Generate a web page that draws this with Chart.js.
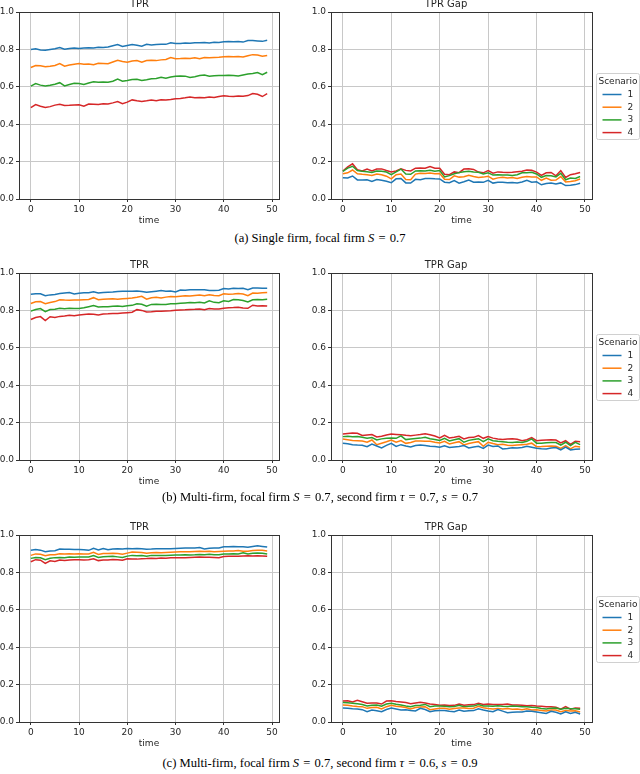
<!DOCTYPE html>
<html>
<head>
<meta charset="utf-8">
<script src="https://cdn.jsdelivr.net/npm/chart.js@4.4.0/dist/chart.umd.min.js"></script>
<style>
  html, body { margin: 0; padding: 0; background: #fff; }
  body { width: 640px; height: 774px; position: relative; overflow: hidden; }
  canvas { position: absolute; }
  .caption {
    position: absolute; left: 0; width: 640px; text-align: center;
    font-family: "Liberation Serif", "Times New Roman", serif;
    font-size: 12.6px; line-height: 16px; color: #000;
  }
  .caption .eq { padding: 0 1px; }
</style>
</head>
<body>
<canvas id="aTpr" width="290" height="231" style="left:0;top:-2px"></canvas>
<canvas id="aGap" width="340" height="231" style="left:300px;top:-2px"></canvas>
<div class="caption" style="top:230px">(a) Single firm, focal firm <i>S</i> <span class="eq">=</span> 0.7</div>

<canvas id="bTpr" width="290" height="231" style="left:0;top:259px"></canvas>
<canvas id="bGap" width="340" height="231" style="left:300px;top:259px"></canvas>
<div class="caption" style="top:489px">(b) Multi-firm, focal firm <i>S</i> <span class="eq">=</span> 0.7, second firm <i>τ</i> <span class="eq">=</span> 0.7, <i>s</i> <span class="eq">=</span> 0.7</div>

<canvas id="cTpr" width="290" height="231" style="left:0;top:521px"></canvas>
<canvas id="cGap" width="340" height="231" style="left:300px;top:521px"></canvas>
<div class="caption" style="top:755px">(c) Multi-firm, focal firm <i>S</i> <span class="eq">=</span> 0.7, second firm <i>τ</i> <span class="eq">=</span> 0.6, <i>s</i> <span class="eq">=</span> 0.9</div>

<script>
const timeSteps = [0,1,2,3,4,5,6,7,8,9,10,11,12,13,14,15,16,17,18,19,20,21,22,23,24,25,26,27,28,29,30,31,32,33,34,35,36,37,38,39,40,41,42,43,44,45,46,47,48,49];
const xTicks = [0, 10, 20, 30, 40, 50];
const yTicks = [0, 0.2, 0.4, 0.6, 0.8, 1.0];
const scenarioLabels = ["1", "2", "3", "4"];
const scenarioColors = ["#1f77b4", "#ff7f0e", "#2ca02c", "#d62728"];
const panelTitles = ["TPR", "TPR Gap"];

// (a) single firm
const aTpr1 = [0.800,0.803,0.797,0.796,0.800,0.804,0.810,0.801,0.805,0.807,0.805,0.808,0.809,0.807,0.812,0.810,0.813,0.820,0.826,0.816,0.821,0.826,0.822,0.817,0.827,0.824,0.826,0.828,0.827,0.836,0.831,0.832,0.834,0.833,0.836,0.835,0.837,0.834,0.838,0.837,0.841,0.842,0.841,0.842,0.839,0.848,0.847,0.845,0.843,0.849];
const aTpr2 = [0.703,0.714,0.712,0.707,0.710,0.714,0.724,0.710,0.716,0.721,0.724,0.720,0.722,0.718,0.726,0.725,0.723,0.733,0.742,0.735,0.731,0.738,0.740,0.731,0.741,0.742,0.740,0.744,0.746,0.756,0.750,0.751,0.753,0.752,0.755,0.750,0.756,0.755,0.757,0.758,0.761,0.762,0.761,0.762,0.760,0.766,0.772,0.770,0.764,0.767];
const aTpr3 = [0.604,0.617,0.609,0.604,0.608,0.614,0.622,0.605,0.612,0.619,0.618,0.612,0.620,0.627,0.624,0.626,0.625,0.630,0.641,0.630,0.634,0.639,0.640,0.634,0.638,0.643,0.645,0.651,0.646,0.652,0.657,0.658,0.657,0.650,0.654,0.660,0.663,0.657,0.659,0.660,0.661,0.662,0.660,0.658,0.663,0.668,0.671,0.676,0.665,0.678];
const aTpr4 = [0.489,0.505,0.496,0.489,0.494,0.502,0.507,0.500,0.501,0.503,0.504,0.496,0.508,0.507,0.506,0.509,0.508,0.514,0.521,0.510,0.518,0.530,0.525,0.522,0.525,0.529,0.526,0.531,0.530,0.532,0.536,0.538,0.541,0.546,0.541,0.543,0.541,0.546,0.543,0.548,0.552,0.549,0.548,0.551,0.550,0.553,0.564,0.560,0.548,0.563];
const aGap1 = [0.113,0.112,0.123,0.102,0.101,0.103,0.094,0.104,0.100,0.095,0.087,0.108,0.110,0.086,0.085,0.105,0.103,0.109,0.110,0.108,0.107,0.090,0.087,0.098,0.085,0.092,0.101,0.090,0.091,0.089,0.100,0.085,0.089,0.090,0.087,0.088,0.086,0.091,0.100,0.090,0.092,0.076,0.083,0.085,0.080,0.086,0.072,0.073,0.077,0.084];
const aGap2 = [0.135,0.140,0.155,0.135,0.132,0.130,0.126,0.134,0.130,0.122,0.108,0.130,0.134,0.104,0.103,0.133,0.138,0.136,0.139,0.135,0.136,0.106,0.104,0.124,0.117,0.119,0.127,0.120,0.115,0.117,0.122,0.106,0.113,0.116,0.112,0.115,0.110,0.116,0.120,0.118,0.118,0.100,0.112,0.100,0.101,0.120,0.091,0.094,0.098,0.107];
const aGap3 = [0.148,0.165,0.175,0.152,0.148,0.146,0.142,0.150,0.148,0.144,0.130,0.145,0.160,0.134,0.132,0.150,0.151,0.150,0.154,0.148,0.152,0.118,0.125,0.135,0.141,0.146,0.149,0.145,0.143,0.134,0.140,0.128,0.130,0.129,0.128,0.126,0.130,0.140,0.141,0.143,0.134,0.116,0.125,0.124,0.118,0.137,0.103,0.112,0.110,0.120];
const aGap4 = [0.150,0.172,0.188,0.156,0.150,0.160,0.150,0.160,0.161,0.152,0.145,0.150,0.162,0.153,0.150,0.165,0.166,0.164,0.173,0.165,0.164,0.132,0.130,0.145,0.141,0.160,0.162,0.158,0.144,0.140,0.152,0.138,0.145,0.143,0.142,0.143,0.146,0.148,0.155,0.154,0.144,0.126,0.140,0.142,0.124,0.152,0.115,0.130,0.135,0.142];

// (b) multi-firm, tau = 0.7, s = 0.7
const bTpr1 = [0.886,0.889,0.889,0.878,0.883,0.885,0.890,0.893,0.896,0.888,0.892,0.895,0.894,0.900,0.893,0.896,0.897,0.898,0.901,0.902,0.903,0.902,0.904,0.901,0.897,0.900,0.903,0.906,0.902,0.904,0.899,0.909,0.908,0.911,0.911,0.910,0.911,0.907,0.906,0.908,0.917,0.915,0.918,0.917,0.918,0.911,0.920,0.920,0.918,0.919];
const bTpr2 = [0.837,0.846,0.847,0.836,0.842,0.847,0.857,0.855,0.854,0.855,0.855,0.857,0.858,0.868,0.857,0.859,0.861,0.862,0.859,0.862,0.864,0.866,0.870,0.875,0.860,0.868,0.870,0.866,0.871,0.874,0.873,0.876,0.878,0.877,0.880,0.882,0.878,0.884,0.880,0.879,0.889,0.887,0.888,0.890,0.888,0.879,0.893,0.892,0.894,0.896];
const bTpr3 = [0.796,0.805,0.810,0.793,0.805,0.806,0.812,0.809,0.811,0.810,0.810,0.814,0.820,0.826,0.818,0.819,0.820,0.822,0.823,0.821,0.825,0.827,0.835,0.833,0.823,0.832,0.833,0.832,0.832,0.835,0.835,0.838,0.840,0.842,0.841,0.844,0.840,0.851,0.843,0.841,0.851,0.848,0.858,0.857,0.853,0.845,0.857,0.858,0.857,0.859];
const bTpr4 = [0.751,0.762,0.767,0.746,0.766,0.762,0.768,0.770,0.774,0.772,0.775,0.778,0.781,0.780,0.776,0.781,0.782,0.784,0.783,0.786,0.788,0.790,0.804,0.800,0.791,0.793,0.796,0.795,0.797,0.798,0.801,0.802,0.803,0.805,0.806,0.808,0.803,0.810,0.808,0.807,0.812,0.814,0.815,0.817,0.813,0.811,0.828,0.824,0.825,0.823];
const bGap1 = [0.089,0.087,0.082,0.080,0.079,0.071,0.085,0.075,0.064,0.078,0.089,0.073,0.082,0.075,0.070,0.077,0.080,0.078,0.074,0.072,0.068,0.076,0.067,0.070,0.072,0.077,0.064,0.070,0.073,0.062,0.080,0.072,0.075,0.059,0.062,0.066,0.064,0.067,0.073,0.068,0.063,0.060,0.059,0.064,0.067,0.054,0.069,0.054,0.058,0.059];
const bGap2 = [0.112,0.108,0.104,0.103,0.101,0.095,0.107,0.082,0.090,0.098,0.107,0.095,0.104,0.089,0.094,0.102,0.101,0.100,0.100,0.095,0.091,0.100,0.086,0.092,0.098,0.081,0.088,0.093,0.098,0.073,0.095,0.088,0.082,0.084,0.079,0.077,0.080,0.082,0.084,0.090,0.071,0.072,0.074,0.075,0.073,0.062,0.077,0.059,0.074,0.070];
const bGap3 = [0.125,0.127,0.124,0.125,0.122,0.117,0.120,0.107,0.113,0.116,0.118,0.116,0.129,0.109,0.112,0.115,0.117,0.121,0.114,0.110,0.104,0.116,0.102,0.108,0.114,0.095,0.105,0.110,0.114,0.098,0.113,0.103,0.100,0.098,0.095,0.094,0.096,0.094,0.100,0.113,0.090,0.090,0.092,0.093,0.093,0.080,0.095,0.077,0.094,0.082];
const bGap4 = [0.139,0.142,0.145,0.143,0.131,0.134,0.136,0.123,0.127,0.134,0.139,0.137,0.135,0.132,0.130,0.133,0.136,0.140,0.135,0.128,0.118,0.132,0.118,0.122,0.127,0.113,0.120,0.121,0.131,0.116,0.125,0.117,0.112,0.110,0.112,0.113,0.111,0.103,0.108,0.120,0.103,0.106,0.107,0.108,0.107,0.091,0.103,0.084,0.100,0.098];

// (c) multi-firm, tau = 0.6, s = 0.9
const cTpr1 = [0.918,0.922,0.919,0.911,0.914,0.916,0.925,0.924,0.924,0.923,0.922,0.921,0.918,0.929,0.920,0.928,0.921,0.925,0.926,0.925,0.928,0.927,0.928,0.926,0.924,0.925,0.927,0.926,0.926,0.927,0.928,0.929,0.930,0.931,0.930,0.933,0.925,0.929,0.931,0.930,0.937,0.937,0.938,0.937,0.937,0.934,0.938,0.942,0.939,0.936];
const cTpr2 = [0.891,0.899,0.897,0.889,0.894,0.895,0.900,0.899,0.900,0.899,0.900,0.899,0.898,0.907,0.896,0.901,0.901,0.902,0.901,0.897,0.903,0.909,0.908,0.906,0.903,0.905,0.907,0.905,0.907,0.908,0.909,0.910,0.911,0.910,0.912,0.913,0.912,0.913,0.911,0.912,0.913,0.914,0.914,0.917,0.913,0.913,0.917,0.919,0.918,0.915];
const cTpr3 = [0.875,0.880,0.878,0.868,0.876,0.879,0.880,0.879,0.882,0.881,0.882,0.883,0.882,0.890,0.880,0.884,0.885,0.886,0.883,0.880,0.887,0.891,0.889,0.890,0.887,0.891,0.890,0.891,0.890,0.892,0.893,0.893,0.894,0.893,0.894,0.896,0.895,0.897,0.894,0.895,0.899,0.898,0.900,0.899,0.905,0.898,0.902,0.904,0.903,0.899];
const cTpr4 = [0.857,0.868,0.865,0.848,0.862,0.858,0.866,0.864,0.866,0.867,0.867,0.866,0.868,0.873,0.863,0.866,0.866,0.869,0.868,0.865,0.873,0.872,0.871,0.873,0.874,0.876,0.875,0.877,0.876,0.878,0.878,0.879,0.878,0.880,0.881,0.882,0.881,0.881,0.880,0.878,0.885,0.886,0.886,0.887,0.888,0.889,0.888,0.889,0.888,0.886];
const cGap1 = [0.075,0.073,0.071,0.070,0.066,0.055,0.064,0.060,0.055,0.067,0.075,0.070,0.064,0.066,0.062,0.059,0.073,0.067,0.055,0.060,0.061,0.062,0.058,0.055,0.064,0.057,0.060,0.061,0.071,0.064,0.059,0.055,0.066,0.058,0.050,0.052,0.054,0.053,0.059,0.058,0.054,0.050,0.046,0.057,0.052,0.043,0.055,0.046,0.052,0.043];
const cGap2 = [0.091,0.090,0.086,0.083,0.082,0.073,0.078,0.079,0.070,0.082,0.089,0.084,0.082,0.078,0.070,0.077,0.080,0.082,0.066,0.070,0.073,0.074,0.068,0.072,0.075,0.075,0.072,0.074,0.084,0.076,0.072,0.070,0.072,0.070,0.072,0.068,0.070,0.066,0.071,0.064,0.065,0.062,0.059,0.064,0.064,0.055,0.061,0.059,0.060,0.054];
const cGap3 = [0.104,0.103,0.100,0.097,0.093,0.086,0.090,0.091,0.084,0.096,0.100,0.095,0.091,0.086,0.082,0.088,0.090,0.094,0.082,0.085,0.086,0.084,0.081,0.083,0.089,0.082,0.084,0.085,0.094,0.086,0.086,0.084,0.087,0.084,0.083,0.086,0.084,0.081,0.082,0.079,0.078,0.072,0.070,0.074,0.075,0.068,0.073,0.071,0.071,0.068];
const cGap4 = [0.112,0.114,0.107,0.116,0.108,0.100,0.101,0.102,0.096,0.112,0.114,0.110,0.107,0.104,0.098,0.102,0.105,0.101,0.096,0.094,0.090,0.091,0.088,0.089,0.096,0.090,0.092,0.093,0.100,0.094,0.096,0.094,0.093,0.094,0.096,0.091,0.091,0.090,0.087,0.088,0.085,0.084,0.082,0.081,0.079,0.068,0.082,0.068,0.075,0.073];

const textColor = "#262626";
const gridColor = "#c8c8c8";
const tickFont = { family: "DejaVu Sans", size: 9 };

// matplotlib-style box around the axes
const frame = {
  id: "frame",
  afterDatasetsDraw(chart) {
    const { ctx, chartArea: a } = chart;
    ctx.save();
    ctx.strokeStyle = "#333";
    ctx.lineWidth = 1;
    ctx.strokeRect(Math.round(a.left) + 0.5, Math.round(a.top) + 0.5,
      Math.round(a.right - a.left), Math.round(a.bottom - a.top));
    ctx.restore();
  }
};

// legend box outside the right edge of the axes, centred vertically
const boxLegend = {
  id: "boxLegend",
  afterDraw(chart, args, opts) {
    if (!opts.show) return;
    const { ctx, chartArea: a } = chart;
    const w = 43, h = 66;
    const x = Math.round(a.right) + 4.5;
    const y = Math.round((a.top + a.bottom) / 2 - h / 2) + 0.5;
    ctx.save();
    ctx.beginPath();
    ctx.roundRect(x, y, w, h, 2);
    ctx.fillStyle = "rgba(255,255,255,0.8)";
    ctx.fill();
    ctx.strokeStyle = "#d0d0d0";
    ctx.lineWidth = 1;
    ctx.stroke();
    ctx.font = "9px 'DejaVu Sans'";
    ctx.fillStyle = textColor;
    ctx.textBaseline = "middle";
    ctx.textAlign = "center";
    ctx.fillText(opts.title, x + w / 2, y + 8.5);
    chart.data.datasets.forEach((ds, i) => {
      const ly = y + 21 + i * 12.7;
      ctx.strokeStyle = ds.borderColor;
      ctx.lineWidth = 1.5;
      ctx.beginPath();
      ctx.moveTo(x + 6, ly);
      ctx.lineTo(x + 25, ly);
      ctx.stroke();
      ctx.textAlign = "left";
      ctx.fillText(ds.label, x + 31, ly);
    });
    ctx.restore();
  }
};

function makeChart(id, title, series, isGap) {
  new Chart(document.getElementById(id), {
    type: "line",
    data: {
      datasets: series.map((vals, i) => ({
        label: scenarioLabels[i],
        data: timeSteps.map((t, k) => ({ x: t, y: vals[k] })),
        borderColor: scenarioColors[i],
        borderWidth: 1.5,
        pointRadius: 0,
        tension: 0,
        fill: false
      }))
    },
    options: {
      responsive: false,
      animation: false,
      layout: { padding: { left: 0, right: isGap ? 48 : 11, top: 0, bottom: 0 } },
      plugins: {
        legend: { display: false },
        tooltip: { enabled: false },
        title: {
          display: true, text: title, color: textColor,
          font: { family: "DejaVu Sans", size: 10, weight: "normal" },
          padding: { top: 0, bottom: 2 }
        },
        boxLegend: { show: isGap, title: "Scenario" }
      },
      scales: {
        x: {
          type: "linear", min: -2.45, max: 51.45,
          afterBuildTicks: s => { s.ticks = xTicks.map(v => ({ value: v })); },
          afterFit: s => { s.height = 30; },
          grid: { color: gridColor, lineWidth: 1, tickLength: 3, tickColor: "#333" },
          border: { display: false },
          ticks: { font: tickFont, color: textColor, padding: 2, maxRotation: 0, callback: v => v },
          title: { display: true, text: "time", color: textColor, font: tickFont, padding: { top: 0, bottom: 3 } }
        },
        y: {
          min: 0, max: 1,
          afterBuildTicks: s => { s.ticks = yTicks.map(v => ({ value: v })); },
          afterFit: s => { s.width = isGap ? 31 : 19; },
          grid: { color: gridColor, lineWidth: 1, tickLength: 3, tickColor: "#333" },
          border: { display: false },
          ticks: { font: tickFont, color: textColor, padding: 2, callback: v => v.toFixed(1) }
        }
      }
    },
    plugins: [frame, boxLegend]
  });
}

makeChart("aTpr", panelTitles[0], [aTpr1, aTpr2, aTpr3, aTpr4], false);
makeChart("aGap", panelTitles[1], [aGap1, aGap2, aGap3, aGap4], true);
makeChart("bTpr", panelTitles[0], [bTpr1, bTpr2, bTpr3, bTpr4], false);
makeChart("bGap", panelTitles[1], [bGap1, bGap2, bGap3, bGap4], true);
makeChart("cTpr", panelTitles[0], [cTpr1, cTpr2, cTpr3, cTpr4], false);
makeChart("cGap", panelTitles[1], [cGap1, cGap2, cGap3, cGap4], true);
</script>
</body>
</html>
